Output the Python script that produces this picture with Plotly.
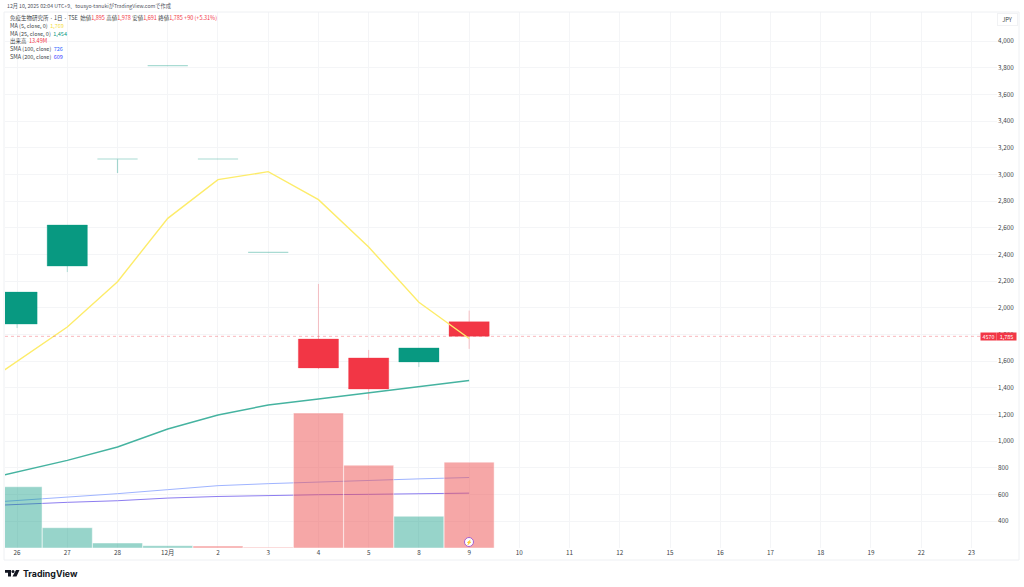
import plotly.graph_objects as go

# ---- data -------------------------------------------------------------
labels = ["25", "26", "27", "28", "12月", "2", "3", "4", "5", "8", "9",
          "10", "11", "12", "15", "16", "17", "18", "19", "22", "23"]
open_ = [None, 1877, 2312, None, None, None, None, 1765, 1623, 1593, 1895]
high = [None, 2117, 2620, None, None, None, None, 2178, 1683, 1698, 1978]
low = [None, 1847, 2267, None, None, None, None, 1540, 1308, 1555, 1691]
close = [None, 2117, 2620, None, None, None, None, 1548, 1390, 1698, 1785]
# days that opened and closed at the same price (limit moves)
flat_price = [None, None, None, 3115, 3815, 3115, 2415, None, None, None, None]
flat_low = [None, None, None, 3010, 3815, 3115, 2415, None, None, None, None]
volume = [None, 9.62, 3.19, 0.78, 0.36, 0.31, 0.12, 21.2, 13.0, 4.98, 13.49]
volume_up = [True, True, True, True, True, False, False, False, False, True, False]
ma5 = [1340, 1600, 1855, 2195, 2670, 2960, 3020, 2810, 2455, 2040, 1769]
ma25 = [680, 770, 855, 955, 1090, 1195, 1270, 1315, 1360, 1405, 1454]
sma100 = [528, 553, 578, 605, 635, 665, 680, 693, 705, 716, 726]
sma200 = [508, 525, 540, 552, 572, 584, 592, 597, 600, 604, 609]
price_ticks = [400, 600, 800, 1000, 1200, 1400, 1600, 1800, 2000, 2200, 2400,
               2600, 2800, 3000, 3200, 3400, 3600, 3800, 4000]
last_price = 1785
RED_SPAN = "<span style='color:#f23645'>%s</span>"
legend_rows = [
    "免疫生物研究所 · 1日 · TSE  始値" + RED_SPAN % "1,895" + " 高値" + RED_SPAN % "1,978" +
    " 安値" + RED_SPAN % "1,691" + " 終値" + RED_SPAN % "1,785 +90 (+5.31%)",
    "MA (5, close, 0)  <span style='color:#f5dd3a'>1,769</span>",
    "MA (25, close, 0)  <span style='color:#089981'>1,454</span>",
    "出来高  " + RED_SPAN % "13.49M",
    "SMA (100, close)  <span style='color:#2962ff'>726</span>",
    "SMA (200, close)  <span style='color:#3a3aff'>609</span>",
]

# ---- styles -----------------------------------------------------------
UP, DOWN = "#089981", "#f23645"
FONT = "Noto Sans CJK JP, Noto Sans, sans-serif"
W, H = 1024, 587
L, R, T, B = 5, 997, 12, 548
BORDER = "#eef0f3"
GRID = "#f4f5f7"

def px_x(p): return (p - L) / (R - L)
def px_y(p): return (B - p) / (B - T)

x_offset = -1  # "25" lies just off the left edge
n = len(open_)
xs = [i + x_offset for i in range(len(labels))]
vol_colors = ["rgba(8,153,129,0.42)" if up else "rgba(238,80,80,0.5)" for up in volume_up]

fig = go.Figure()
fig.add_trace(go.Bar(x=xs[:n], y=volume, yaxis="y2", width=0.995,
                     marker=dict(color=vol_colors, line=dict(color="rgba(255,255,255,0.45)", width=1)),
                     showlegend=False, hoverinfo="skip"))
fig.add_trace(go.Scatter(x=xs[:n], y=sma100, mode="lines", line=dict(color="#9fb4ff", width=1), showlegend=False))
fig.add_trace(go.Scatter(x=xs[:n], y=sma200, mode="lines", line=dict(color="#8d7df0", width=1), showlegend=False))
fig.add_trace(go.Scatter(x=xs[:n], y=ma25, mode="lines", line=dict(color="#45b3a0", width=1.4), showlegend=False))
fig.add_trace(go.Scatter(x=xs[:n], y=ma5, mode="lines", line=dict(color="#fdec6a", width=1.4), showlegend=False))
fig.add_trace(go.Candlestick(
    x=xs[:n], open=open_, high=high, low=low, close=close, whiskerwidth=0,
    increasing=dict(line=dict(color="rgba(8,153,129,0.3)", width=1), fillcolor=UP),
    decreasing=dict(line=dict(color="rgba(242,54,69,0.3)", width=1), fillcolor=DOWN),
    showlegend=False))
FLAT_LINE = dict(line=dict(color="rgba(8,153,129,0.35)", width=1.2), fillcolor="rgba(8,153,129,0.35)")
fig.add_trace(go.Candlestick(
    x=xs[:n], open=flat_price, high=flat_price, low=flat_low, close=flat_price, whiskerwidth=0,
    increasing=FLAT_LINE, decreasing=FLAT_LINE, showlegend=False))

fig.update_layout(
    width=W, height=H, autosize=False, paper_bgcolor="white", plot_bgcolor="white",
    margin=dict(l=L, r=W - R, t=T, b=H - B, pad=0), boxgap=0.2, boxgroupgap=0, boxmode="overlay",
    font=dict(family=FONT, size=6.3, color="#3c3f47"),
    xaxis=dict(range=[-0.24, 19.509], tickmode="array", tickvals=xs[1:], ticktext=labels[1:],
               showgrid=True, gridcolor=GRID, gridwidth=1, rangeslider=dict(visible=False),
               zeroline=False, ticks="", showline=False, tickfont=dict(size=6.3)),
    yaxis=dict(range=[197.5, 4217.5], side="right", tickmode="array", tickvals=price_ticks,
               ticktext=[f"{v:,}" for v in price_ticks], showgrid=True, gridcolor=GRID,
               zeroline=False, ticks="", showline=False, tickfont=dict(size=6.3)),
    yaxis2=dict(range=[0, 84.2], overlaying="y", visible=False),
    shapes=[
        dict(type="line", xref="paper", x0=0, x1=px_x(981), yref="y", y0=last_price, y1=last_price,
             line=dict(color="rgba(242,54,69,0.35)", width=1, dash="dot")),
        dict(type="rect", xref="paper", yref="paper", x0=px_x(4), x1=px_x(1019), y0=px_y(560), y1=px_y(12),
             line=dict(color=BORDER, width=1), fillcolor="rgba(0,0,0,0)"),
        # TradingView mark
        dict(type="path", xref="paper", yref="paper", line=dict(width=0), fillcolor="#131722",
             path=(f"M{px_x(5)},{px_y(570)} H{px_x(11)} V{px_y(576.5)} H{px_x(8)} V{px_y(572.8)} H{px_x(5)} Z "
                   f"M{px_x(16)},{px_y(570)} H{px_x(19.5)} L{px_x(16.5)},{px_y(576.5)} H{px_x(12.5)} Z")),
        dict(type="circle", xref="paper", yref="paper", line=dict(width=0), fillcolor="#131722",
             x0=px_x(11.5), x1=px_x(14.5), y0=px_y(573), y1=px_y(570)),
        # earnings marker ring
        dict(type="circle", xref="paper", yref="paper", line=dict(color="#a35fd0", width=1), fillcolor="white",
             x0=px_x(464.5), x1=px_x(473.5), y0=px_y(546.5), y1=px_y(537.5)),
    ],
)

ann = [dict(x=px_x(5), y=px_y(6), text="12月 10, 2025 02:04 UTC+9、tousyo-tanukiがTradingView.comで作成",
            font=dict(size=5.2, color="#50535e"))]
for i, txt in enumerate(legend_rows):
    ann.append(dict(x=px_x(8), y=px_y(18 + i * 7.8), text=txt, font=dict(size=5.5, color="#3c3f47")))
ann.append(dict(x=px_x(21), y=px_y(573.5), text="<b>TradingView</b>",
                font=dict(size=8.8, color="#131722", family="Inter, Noto Sans, sans-serif")))
for a in ann:
    a.update(xref="paper", yref="paper", xanchor="left", yanchor="middle", showarrow=False, align="left")
    fig.add_annotation(**a)

# JPY box
fig.add_annotation(xref="paper", yref="paper", x=px_x(1007.5), y=px_y(19.5), text="JPY", showarrow=False,
                   width=19, height=11, bgcolor="white", bordercolor="#f1f2f4", borderwidth=1, borderpad=0,
                   font=dict(size=5.8, color="#3c3f47"), xanchor="center", yanchor="middle")
# last-price tags
fig.add_annotation(xref="paper", yref="y", x=px_x(988.5), y=last_price, text="4570", showarrow=False, width=15, height=7,
                   bgcolor=DOWN, font=dict(color="white", size=5.3), borderpad=0, xanchor="center", yanchor="middle")
fig.add_annotation(xref="paper", yref="y", x=px_x(1006.5), y=last_price, text="1,785", showarrow=False, width=19, height=7,
                   bgcolor=DOWN, font=dict(color="white", size=5.5), borderpad=0, xanchor="center", yanchor="middle")
# earnings marker glyph
fig.add_annotation(xref="paper", yref="paper", x=px_x(469), y=px_y(542), text="⚡", showarrow=False,
                   font=dict(color="#9c27b0", size=5), borderpad=0, xanchor="center", yanchor="middle")

fig.write_html("out.html", config={"displayModeBar": False},
               post_script="document.body.style.margin='0';document.body.style.overflow='hidden';")
